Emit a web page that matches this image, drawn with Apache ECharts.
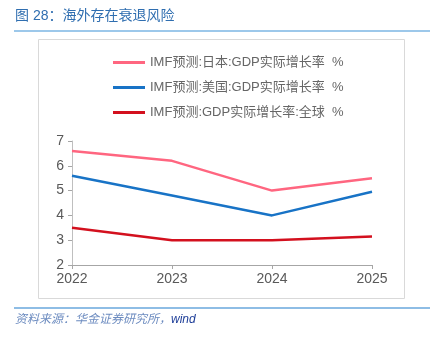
<!DOCTYPE html>
<html><head><meta charset="utf-8">
<script src="https://cdn.jsdelivr.net/npm/echarts@6/dist/echarts.min.js"></script>
<style>html,body{margin:0;padding:0;background:#fff}#c{width:439px;height:341px}</style>
</head><body><div id="c"></div>
<script>
const categories = ['2022', '2023', '2024', '2025'];
const japan = [6.6, 6.2, 5.0, 5.5];
const usa = [5.6, 4.8, 4.0, 4.95];
const world = [3.5, 3.0, 3.0, 3.15];
const seriesNames = ['IMF预测:日本:GDP实际增长率  %', 'IMF预测:美国:GDP实际增长率  %', 'IMF预测:GDP实际增长率:全球  %'];
const colors = ['#FF6680', '#1873C6', '#D3101E'];
const chart = echarts.init(document.getElementById('c'));
const font = '"Liberation Sans", Arial, "Noto Sans CJK SC", sans-serif';
chart.setOption({
  animation: false,
  textStyle: {fontFamily: font},
  graphic: [
    {type: 'text', left: 15, top: 9, style: {text: '图 28：海外存在衰退风险', fill: '#2F6EB0', font: '14px ' + font}},
    {type: 'line', shape: {x1: 14, y1: 31, x2: 430, y2: 31}, style: {stroke: '#7DB6E3', lineWidth: 1.5}},
    {type: 'rect', shape: {x: 38.5, y: 39.5, width: 366, height: 259}, style: {fill: 'none', stroke: '#D9D9D9', lineWidth: 1}},
    {type: 'line', shape: {x1: 14, y1: 308, x2: 430, y2: 308}, style: {stroke: '#1F7DCB', lineWidth: 1.2}},
    {type: 'text', left: 15, top: 314, style: {text: '资料来源：华金证券研究所，', fill: '#6D8CC0', font: 'italic 12px ' + font}},
    {type: 'text', left: 171, top: 314, style: {text: 'wind', fill: '#1F3F99', font: 'italic 12px ' + font}}
  ],
  legend: {
    orient: 'vertical', left: 108, top: 51, itemWidth: 32, itemHeight: 3, itemGap: 12,
    icon: 'rect',
    textStyle: {color: '#666666', fontSize: 13, fontFamily: font},
    data: seriesNames
  },
  grid: {left: 72, right: 67, top: 141, bottom: 76, containLabel: false},
  xAxis: {
    type: 'category', data: categories, boundaryGap: false,
    axisLine: {lineStyle: {color: '#A6A6A6'}},
    axisTick: {show: true, length: 4, lineStyle: {color: '#A6A6A6'}},
    axisLabel: {color: '#595959', fontSize: 14, margin: 7}
  },
  yAxis: {
    type: 'value', min: 2, max: 7, interval: 1,
    axisLine: {show: true, lineStyle: {color: '#BFBFBF'}},
    axisTick: {show: true, length: 4, lineStyle: {color: '#A6A6A6'}},
    splitLine: {show: false},
    axisLabel: {color: '#595959', fontSize: 14, margin: 8}
  },
  series: [
    {name: seriesNames[0], type: 'line', data: japan, showSymbol: false, lineStyle: {width: 2.5, color: colors[0]}, itemStyle: {color: colors[0]}},
    {name: seriesNames[1], type: 'line', data: usa, showSymbol: false, lineStyle: {width: 2.5, color: colors[1]}, itemStyle: {color: colors[1]}},
    {name: seriesNames[2], type: 'line', data: world, showSymbol: false, lineStyle: {width: 2.5, color: colors[2]}, itemStyle: {color: colors[2]}}
  ]
});
</script></body></html>
